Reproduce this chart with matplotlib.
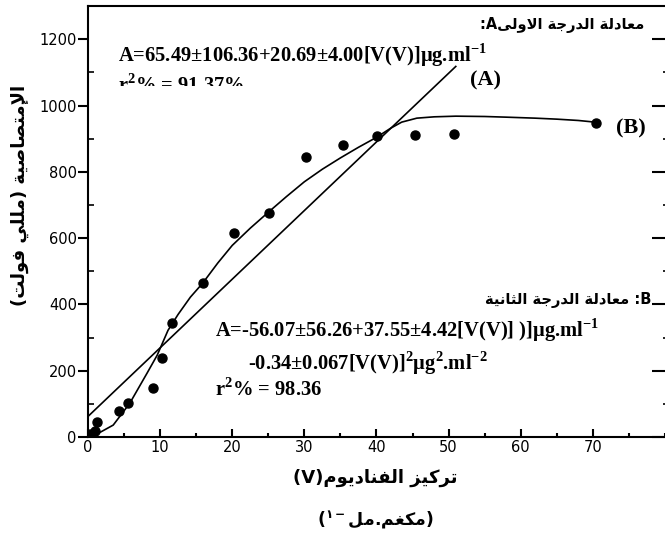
import matplotlib
matplotlib.use("Agg")
import matplotlib.pyplot as plt
from matplotlib.ticker import MultipleLocator, NullFormatter
from matplotlib.transforms import Bbox, TransformedBbox

# measured points
conc = [0.3, 1.0, 1.2, 4.3, 5.6, 9.0, 10.3, 11.6, 15.9, 20.2, 25.1, 30.3, 35.3, 40.1, 45.4, 50.7, 70.5]
absorb = [8, 18, 44, 78, 102, 148, 238, 344, 464, 615, 676, 845, 880, 907, 910, 913, 946]

# straight line (A), end points
line_a_x = [0, 51]
line_a_y = [62, 1118]

# hand drawn curve (B)
curve_b_x = [0, 1, 2, 3.5, 5.8, 8.2, 9.6, 11.1, 12.5, 14.2, 15.9, 18, 20, 22.5, 25, 27.5,
             30, 32.5, 35, 37.5, 40, 42, 43.5, 45.6, 48, 51, 55, 58, 62, 65, 68, 70.3]
curve_b_y = [0, 6, 18, 36, 102, 193, 247, 322, 370, 422, 464, 525, 578, 630, 678, 725,
             770, 808, 842, 874, 904, 932, 950, 962, 966, 968, 967, 965, 962, 959, 955, 950]

x_ticks = [0, 10, 20, 30, 40, 50, 60, 70]
y_ticks = [0, 200, 400, 600, 800, 1000, 1200]

# tiny arabic shaper (matplotlib does no shaping / bidi)
FORMS = {
    'ا': ('\uFE8D', '\uFE8E', None, None),
    'إ': ('\uFE87', '\uFE88', None, None),
    'ت': ('\uFE95', '\uFE96', '\uFE97', '\uFE98'),
    'ث': ('\uFE99', '\uFE9A', '\uFE9B', '\uFE9C'),
    'ج': ('\uFE9D', '\uFE9E', '\uFE9F', '\uFEA0'),
    'د': ('\uFEA9', '\uFEAA', None, None),
    'ر': ('\uFEAD', '\uFEAE', None, None),
    'ز': ('\uFEAF', '\uFEB0', None, None),
    'ص': ('\uFEB9', '\uFEBA', '\uFEBB', '\uFEBC'),
    'ع': ('\uFEC9', '\uFECA', '\uFECB', '\uFECC'),
    'غ': ('\uFECD', '\uFECE', '\uFECF', '\uFED0'),
    'ف': ('\uFED1', '\uFED2', '\uFED3', '\uFED4'),
    'ك': ('\uFED9', '\uFEDA', '\uFEDB', '\uFEDC'),
    'ل': ('\uFEDD', '\uFEDE', '\uFEDF', '\uFEE0'),
    'م': ('\uFEE1', '\uFEE2', '\uFEE3', '\uFEE4'),
    'ن': ('\uFEE5', '\uFEE6', '\uFEE7', '\uFEE8'),
    'ة': ('\uFE93', '\uFE94', None, None),
    'و': ('\uFEED', '\uFEEE', None, None),
    'ى': ('\uFEEF', '\uFEF0', None, None),
    'ي': ('\uFEF1', '\uFEF2', '\uFEF3', '\uFEF4'),
    'لا': ('\uFEFB', '\uFEFC', None, None),
    'لإ': ('\uFEF9', '\uFEFA', None, None),
}


def vis(s):
    toks = []
    i = 0
    while i < len(s):
        if s[i] == 'ل' and i + 1 < len(s) and s[i + 1] in 'اإ':
            toks.append(s[i:i + 2])
            i += 2
        else:
            toks.append(s[i])
            i += 1
    out = []
    for j, t in enumerate(toks):
        f = FORMS.get(t)
        if f is None:
            out.append(t)
            continue
        jp = j > 0 and toks[j - 1] in FORMS and FORMS[toks[j - 1]][2] is not None
        jn = f[2] is not None and j + 1 < len(toks) and toks[j + 1] in FORMS
        if jp and jn:
            out.append(f[3])
        elif jp:
            out.append(f[1])
        elif jn:
            out.append(f[2])
        else:
            out.append(f[0])
    r = ''.join(out)[::-1]
    return r.translate(str.maketrans('()', ')('))


plt.rcParams['mathtext.fontset'] = 'custom'
plt.rcParams['mathtext.rm'] = 'Liberation Serif:bold'
plt.rcParams['mathtext.bf'] = 'Liberation Serif:bold'

fig = plt.figure(figsize=(6.65, 5.42), dpi=100)
ax = fig.add_axes([0.1323, 0.1937, 0.873, 0.795])

ax.plot(line_a_x, line_a_y, color='black', lw=1.2)
ax.plot(curve_b_x, curve_b_y, color='black', lw=1.2)
ax.plot(conc, absorb, 'o', color='black', ms=6.5)

ax.set_xlim(0, 80.5)
ax.set_ylim(0, 1300)
ax.set_xticks(x_ticks)
ax.set_yticks(y_ticks)
ax.xaxis.set_minor_locator(MultipleLocator(5))
ax.yaxis.set_minor_locator(MultipleLocator(100))

for s in ax.spines.values():
    s.set_linewidth(1.5)

ax.tick_params(axis='x', which='major', direction='in', length=6, width=1.5,
               labelsize=10.5, pad=2)
ax.tick_params(axis='x', which='minor', direction='in', length=3, width=1.5)
ax.tick_params(axis='y', which='major', direction='out', length=7, width=1.5,
               labelsize=10.5, pad=1)
ax.tick_params(axis='y', which='minor', direction='in', length=4, width=1.2)

# right side: inward ticks only, no labels
sec = ax.secondary_yaxis('right')
sec.set_yticks(y_ticks)
sec.yaxis.set_minor_locator(MultipleLocator(100))
sec.yaxis.set_major_formatter(NullFormatter())
sec.tick_params(which='major', direction='in', length=12, width=1.5)
sec.tick_params(which='minor', direction='in', length=4, width=1.2)
sec.spines['right'].set_linewidth(1.5)

serif = dict(family='Liberation Serif', weight='bold', color='black')
arab = dict(family=['DejaVu Sans'], weight='bold', color='black')

ax.text(4.2, 1152, r"A=65.49±106.36+20.69±4.00[V(V)]μg.ml$^{\mathbf{-1}}$",
        fontsize=14.8, va='center', **serif)
r2a = ax.text(4.2, 1060, r"r$^{\mathbf{2}}$% = 91.37%", fontsize=14.8, va='center', **serif)
r2a.set_clip_box(TransformedBbox(Bbox([[0, 1058], [40, 1300]]), ax.transData))
r2a.set_clip_on(True)

ax.text(55.1, 1076, "(A)", fontsize=16, va='center', ha='center', **serif)
ax.text(75.3, 932, "(B)", fontsize=16, va='center', ha='center', **serif)

ax.text(77.1, 1242, ":A" + vis("معادلة الدرجة الاولى"), fontsize=10.5, ha='right',
        va='center', **arab)
ax.text(78.1, 413, vis("معادلة الدرجة الثانية") + " :B", fontsize=10.5, ha='right',
        va='center', **arab)

ax.text(17.6, 323, r"A=-56.07±56.26+37.55±4.42[V(V)] )]μg.ml$^{\mathbf{-1}}$",
        fontsize=14.8, va='center', **serif)
ax.text(22.2, 223, r"-0.34±0.067[V(V)]$^{\mathbf{2}}$μg$^{\mathbf{2}}$.ml$^{\mathbf{-2}}$",
        fontsize=14.8, va='center', **serif)
ax.text(17.6, 142, r"r$^{\mathbf{2}}$% = 98.36", fontsize=14.8, va='center', **serif)

fig.text(375 / 665, 1 - 478 / 542, "(V)" + vis("تركيز الفناديوم"), fontsize=13,
         ha='center', va='center', **arab)
fig.text(375 / 665, 1 - 520 / 542,
         "(" + r"$^{\mathregular{١-}}$" + vis("مكغم.مل") + ")", fontsize=12.5,
         ha='center', va='center', **arab)
fig.text(20 / 665, 1 - 195 / 542, vis("الإمتصاصية (مللي فولت)"), fontsize=13,
         rotation=90, ha='center', va='center', **arab)

fig.savefig("out.png", dpi=100)
